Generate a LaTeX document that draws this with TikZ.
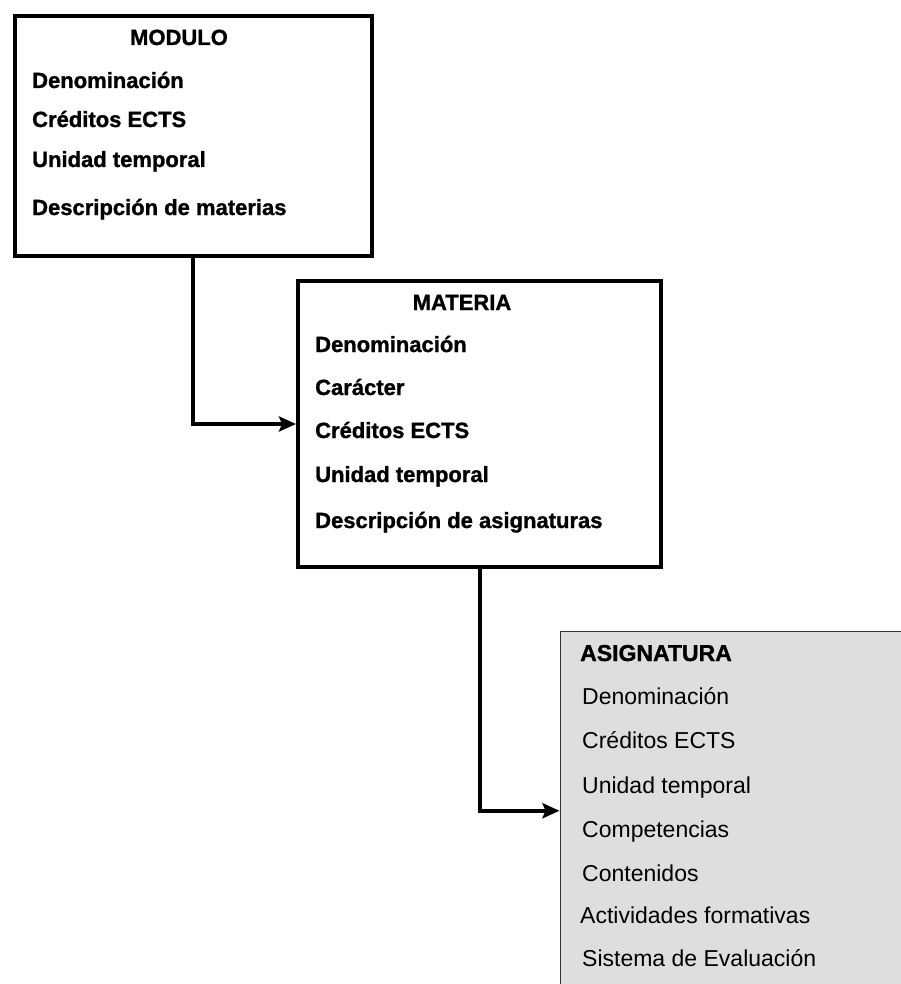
\documentclass[tikz,border=0pt]{standalone}
\usepackage{fontspec}
\setmainfont{Liberation Sans}[BoldFeatures={FakeBold=1.2}]
\usetikzlibrary{arrows.meta}
\tikzstyle{entity} = [rectangle, draw=black, line width=4pt, inner sep=0pt, anchor=north west]
\tikzstyle{subject} = [rectangle, draw=black!80, fill=black!13, line width=1.5pt, inner sep=0pt, anchor=north west]
\tikzstyle{heading} = [anchor=base, inner sep=0pt, font=\fontsize{22}{26}\selectfont\bfseries]
\tikzstyle{field} = [anchor=base west, inner sep=0pt, font=\fontsize{22}{26}\selectfont\bfseries]
\tikzstyle{asigfield} = [anchor=base west, inner sep=0pt, font=\fontsize{23}{27}\selectfont]
\tikzstyle{arrow} = [line width=4pt,-{Stealth[length=17pt,width=15pt,inset=3pt]}]

\begin{document}
\begin{tikzpicture}[x=1pt,y=-1pt]
\useasboundingbox (0,0) rectangle (900,984);

% Boxes
\node (modulo) [entity, minimum width=357pt, minimum height=240pt] at (12.5,14) {};
\node (materia) [entity, minimum width=363pt, minimum height=286pt] at (296,279) {};
\node (asignatura) [subject, minimum width=400pt, minimum height=359pt] at (559.5,630.5) {};

% MODULO
\node (modtitle) [heading] at (179,45) {MODULO};
\node (moddenom) [field] at (32,88) {Denominación};
\node (modcred) [field] at (32,127) {Créditos ECTS};
\node (modunid) [field] at (32,167) {Unidad temporal};
\node (moddesc) [field] at (32,215) {Descripción de materias};

% MATERIA
\node (mattitle) [heading] at (462,310) {MATERIA};
\node (matdenom) [field] at (315,352) {Denominación};
\node (matcar) [field] at (315,395) {Carácter};
\node (matcred) [field] at (315,438) {Créditos ECTS};
\node (matunid) [field] at (315,482) {Unidad temporal};
\node (matdesc) [field] at (315,528) {Descripción de asignaturas};

% ASIGNATURA
\node (asigtitle) [asigfield, font=\fontsize{23}{27}\selectfont\bfseries] at (580,661) {ASIGNATURA};
\node (asigdenom) [asigfield] at (582,704) {Denominación};
\node (asigcred) [asigfield] at (582,748) {Créditos ECTS};
\node (asigunid) [asigfield] at (582,793) {Unidad temporal};
\node (asigcomp) [asigfield] at (582,837) {Competencias};
\node (asigcont) [asigfield] at (582,881) {Contenidos};
\node (asigact) [asigfield] at (580,923) {Actividades formativas};
\node (asigeval) [asigfield] at (582,966) {Sistema de Evaluación};

% Arrows
\draw [arrow] (modulo.south) |- (materia.west);
\draw [arrow] (materia.south) |- (asignatura.west);

\end{tikzpicture}
\end{document}
